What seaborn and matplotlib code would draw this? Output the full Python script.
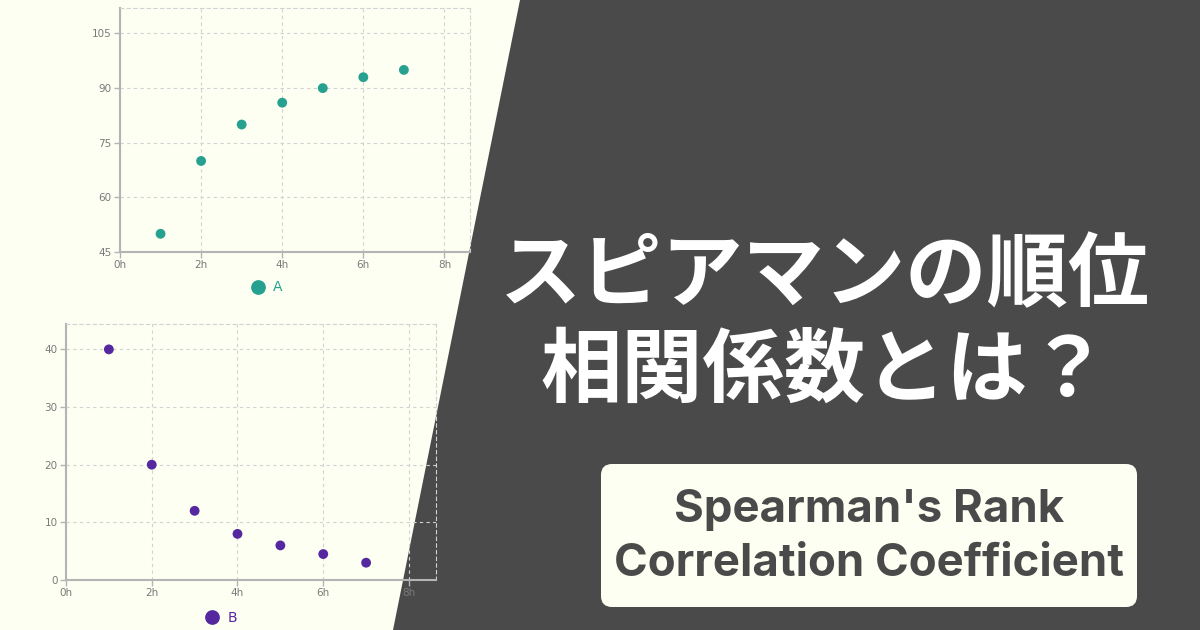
import numpy as np
import pandas as pd
import matplotlib.pyplot as plt
import seaborn as sns
from matplotlib.patches import Polygon, FancyBboxPatch

# data
hours = [1, 2, 3, 4, 5, 6, 7]
score_a = [50, 70, 80, 86, 90, 93, 95]
score_b = [40, 20, 12, 8, 6, 4.5, 3]
x_ticks = [0, 2, 4, 6, 8]
x_tick_labels = ["0h", "2h", "4h", "6h", "8h"]
y_ticks_a = [45, 60, 75, 90, 105]
y_ticks_b = [0, 10, 20, 30, 40]
title_lines = ["スピアマンの順位", "相関係数とは？"]
sub_lines = ["Spearman's Rank", "Correlation Coefficient"]

BG = "#fdfff2"
DARK = "#4a4a4a"
TEAL = "#26a08f"
PURPLE = "#5528a0"
GRID = "#d2d2d2"
AXIS = "#b4b4b4"
TICK = "#7a7a7a"

sns.set_style("white")
plt.rcParams['font.family'] = ['DejaVu Sans']

W, H = 1200, 630
fig = plt.figure(figsize=(12, 6.3), dpi=100, facecolor=BG)

# background layer in pixel coordinates
bg = fig.add_axes([0, 0, 1, 1], zorder=-1)
bg.set_xlim(0, W)
bg.set_ylim(H, 0)
bg.axis("off")
bg.patch.set_alpha(0)
bg.add_patch(Polygon([(520, 0), (W, 0), (W, H), (393, H)], closed=True,
                     facecolor=DARK, edgecolor="none"))
bg.add_patch(FancyBboxPatch((601, 464), 536, 143,
                            boxstyle="round,pad=0,rounding_size=11",
                            facecolor=BG, edgecolor="none"))
for i, line in enumerate(title_lines):
    bg.text(825, 276 + i * 96, line, ha="center", va="center", color="white",
            fontsize=58.5, fontweight="bold",
            family=["Noto Sans CJK JP", "DejaVu Sans"])
for i, line in enumerate(sub_lines):
    bg.text(869, 510 + i * 54, line, ha="center", va="center", color=DARK,
            fontsize=32.8, fontweight="bold", family=["Inter", "DejaVu Sans"])


def chart(rect, ys, label, color, ylim, yticks, leg_pos):
    ax = fig.add_axes(rect)
    ax.patch.set_alpha(0)
    df = pd.DataFrame({"x": hours, "y": ys, "s": label})
    sns.scatterplot(data=df, x="x", y="y", hue="s", palette=[color], s=50,
                    edgecolor="none", ax=ax, zorder=3)
    ax.set_xlim(0, 8.63)
    ax.set_ylim(*ylim)
    ax.set_xticks(x_ticks)
    ax.set_xticklabels(x_tick_labels)
    ax.set_yticks(yticks)
    ax.set_xlabel("")
    ax.set_ylabel("")
    ax.grid(True, color=GRID, linestyle=(0, (3, 3)), linewidth=0.8)
    ax.set_axisbelow(True)
    for side in ["top", "right"]:
        ax.spines[side].set_color(GRID)
        ax.spines[side].set_linestyle((0, (3, 3)))
        ax.spines[side].set_linewidth(0.8)
    for side in ["left", "bottom"]:
        ax.spines[side].set_color(AXIS)
        ax.spines[side].set_linewidth(1.5)
    ax.tick_params(axis="both", colors=AXIS, labelcolor=TICK, labelsize=7.5,
                   length=4, width=1, pad=2, direction="out")
    ax.tick_params(left=True, bottom=True)
    sns.move_legend(ax, "center", bbox_to_anchor=leg_pos, frameon=False,
                    title=None, markerscale=1.5, handletextpad=0.1,
                    fontsize=10)
    for t in ax.get_legend().get_texts():
        t.set_color(color)
    return ax


chart([120 / W, 1 - 252 / H, 350 / W, 244 / H], score_a, "A", TEAL,
      (45, 112), y_ticks_a, (0.41, -0.145))
chart([66 / W, 1 - 580 / H, 370 / W, 256 / H], score_b, "B", PURPLE,
      (0, 44.4), y_ticks_b, (0.41, -0.148))

fig.savefig("out.png", dpi=100, facecolor=BG)
